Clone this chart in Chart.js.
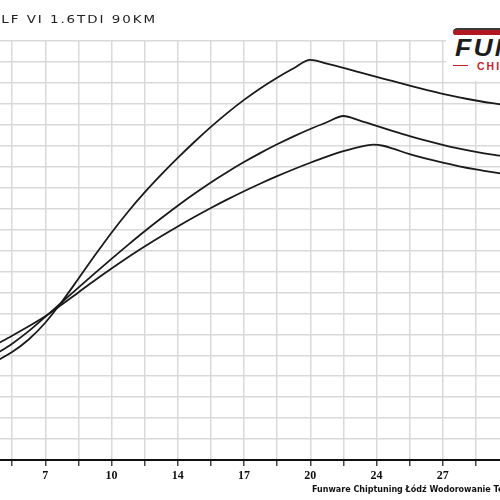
<!DOCTYPE html>
<html>
<head>
<meta charset="utf-8">
<script src="https://cdn.jsdelivr.net/npm/chart.js@4.4.0/dist/chart.umd.min.js"></script>
<style>
  html, body { margin: 0; padding: 0; background: #fff; overflow: hidden; }
  body { width: 500px; height: 500px; position: relative; }
  #wrap { position: absolute; left: -24px; top: 0; width: 536px; height: 500px; }
  #title { position: absolute; right: 343px; top: 14px; font: 11px "DejaVu Sans"; line-height: 11px;
           letter-spacing: 1.6px; white-space: nowrap; color: #222; transform: scaleX(1.22); transform-origin: right top; }
  #logo { position: absolute; left: 446px; top: 0; width: 54px; height: 81px; background: #fff; overflow: hidden; }
  #logo .swoosh { position: absolute; left: 7px; top: 28px; width: 60px; height: 5px; background: #b3171f;
                  border-top: 2px solid #3a3a3a; border-radius: 12px 0 0 8px; }
  #logo .fun { position: absolute; left: 9px; top: 37px; font: italic bold 23px "Liberation Sans"; line-height: 23px;
               color: #1c1c1c; white-space: nowrap; letter-spacing: 2px; transform: scaleX(1.15); transform-origin: left top; }
  #logo .rule { position: absolute; left: 7px; top: 65px; width: 15px; height: 1px; background: #c0272d; }
  #logo .chip { position: absolute; left: 31px; top: 60.5px; font: bold 10.5px "Liberation Sans"; line-height: 10px;
                color: #c0272d; white-space: nowrap; letter-spacing: 2px; }
  #footer { position: absolute; left: 312px; top: 485.5px; font: bold 8px "DejaVu Sans"; line-height: 8px;
            white-space: nowrap; color: #111; }
</style>
</head>
<body>
<div id="wrap"><canvas id="dyno" width="536" height="500"></canvas></div>
<div id="title">GOLF VI 1.6TDI 90KM</div>
<div id="logo">
  <div class="swoosh"></div>
  <div class="fun">FUNWARE</div>
  <div class="rule"></div>
  <div class="chip">CHIPTUNING</div>
</div>
<div id="footer">Funware Chiptuning Łódź Wodorowanie Tel.</div>
<script>
// x positions are in grid columns, tick labels sit on every second column
const xTickLabels = ['', '', '7', '', '10', '', '14', '', '17', '', '20', '', '24', '', '27', '', ''];

// curve 1 (highest peak)
const curve1X = [0.5, 1, 1.5, 2, 2.5, 3, 3.5, 4, 4.5, 5, 5.5, 6, 6.5, 7, 7.5, 8, 8.5, 9, 9.5, 10,
                 10.5, 11, 11.5, 12, 12.5, 13, 13.5, 14, 14.5, 15, 15.5, 16];
const curve1Y = [4.7, 5.15, 5.75, 6.55, 7.55, 8.65, 9.77, 10.85, 11.85, 12.77, 13.62, 14.42, 15.18, 15.9,
                 16.57, 17.19, 17.75, 18.25, 18.7, 19.1, 18.92, 18.72, 18.5, 18.29, 18.08, 17.87, 17.67,
                 17.48, 17.31, 17.16, 17.03, 16.91];

// curve 2 (middle)
const curve2X = [0.5, 1, 1.5, 2, 2.5, 3, 3.5, 4, 4.5, 5, 5.5, 6, 6.5, 7, 7.5, 8, 8.5, 9, 9.5, 10, 10.5, 11,
                 11.5, 12, 12.5, 13, 13.5, 14, 14.5, 15, 15.5, 16];
const curve2Y = [5.05, 5.55, 6.15, 6.83, 7.53, 8.23, 8.92, 9.6, 10.27, 10.92, 11.54, 12.14, 12.71, 13.25,
                 13.75, 14.22, 14.66, 15.07, 15.45, 15.8, 16.12, 16.42, 16.2, 15.95, 15.7, 15.46, 15.24,
                 15.04, 14.86, 14.71, 14.58, 14.47];

// curve 3 (lowest peak)
const curve3X = [0.5, 1, 1.5, 2, 2.5, 3, 3.5, 4, 4.5, 5, 5.5, 6, 6.5, 7, 7.5, 8, 8.5, 9, 9.5, 10, 10.5, 11,
                 11.5, 11.9, 12.2, 12.5, 13, 13.5, 14, 14.5, 15, 15.5, 16];
const curve3Y = [5.5, 5.93, 6.38, 6.86, 7.42, 8.0, 8.58, 9.14, 9.68, 10.19, 10.68, 11.15, 11.6, 12.03, 12.44,
                 12.83, 13.2, 13.55, 13.88, 14.19, 14.48, 14.74, 14.95, 15.05, 15.0, 14.86, 14.6, 14.38,
                 14.19, 14.02, 13.87, 13.74, 13.62];

function toPoints(xs, ys) {
    return xs.map((x, i) => ({ x: x, y: ys[i] }));
}

function curve(xs, ys) {
    return {
        data: toPoints(xs, ys),
        borderColor: '#1a1a1a',
        borderWidth: 1.8,
        pointRadius: 0,
        fill: false,
        cubicInterpolationMode: 'monotone'
    };
}

const gridColor = '#d9d9d9';

new Chart(document.getElementById('dyno'), {
    type: 'line',
    data: {
        datasets: [
            curve(curve1X, curve1Y),
            curve(curve2X, curve2Y),
            curve(curve3X, curve3Y)
        ]
    },
    options: {
        animation: false,
        responsive: false,
        layout: { padding: { top: 41, left: 0, right: 0, bottom: 0 } },
        plugins: {
            legend: { display: false },
            tooltip: { enabled: false }
        },
        scales: {
            x: {
                type: 'linear',
                min: 0,
                max: xTickLabels.length - 1,
                afterBuildTicks: scale => {
                    scale.ticks = xTickLabels.map((_, i) => ({ value: i }));
                },
                afterFit: scale => { scale.height = 40; },
                ticks: {
                    autoSkip: false,
                    maxRotation: 0,
                    padding: 3,
                    color: '#111',
                    font: { family: 'Liberation Serif', size: 12, weight: 'bold' },
                    callback: value => xTickLabels[value] || ''
                },
                grid: { color: gridColor, lineWidth: 1.5, tickLength: 6, tickColor: '#444', tickWidth: 1.5 },
                border: { color: '#111', width: 2 }
            },
            y: {
                min: 0,
                max: 20,
                afterFit: scale => { scale.width = 0; },
                ticks: { display: false, stepSize: 1 },
                grid: { color: gridColor, lineWidth: 1.5, drawTicks: false },
                border: { display: false }
            }
        }
    }
});
</script>
</body>
</html>
